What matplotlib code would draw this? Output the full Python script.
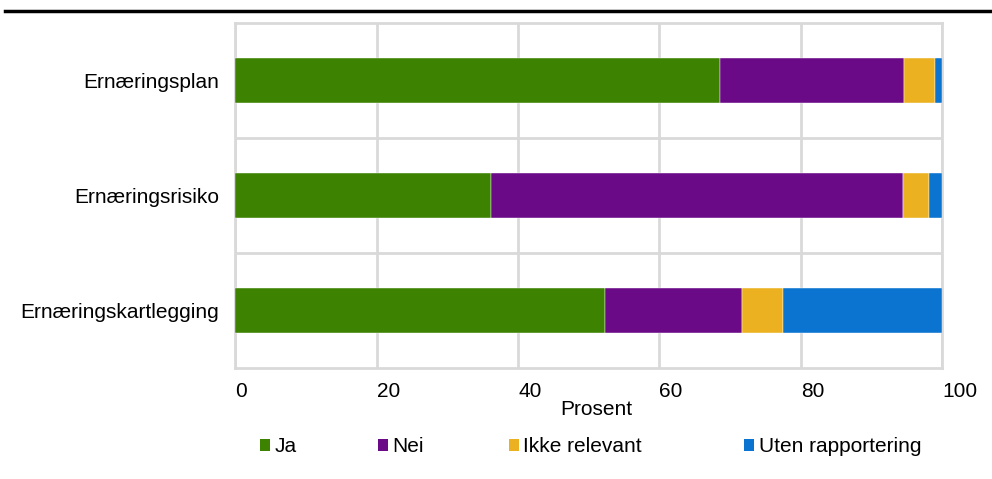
import numpy as np
import matplotlib
matplotlib.use("Agg")
import matplotlib.pyplot as plt
from matplotlib.patches import Patch

plt.rcParams['font.family'] = ['Liberation Sans', 'DejaVu Sans']

# data
categories = ["Ernæringsplan", "Ernæringsrisiko", "Ernæringskartlegging"]
series = ["Ja", "Nei", "Ikke relevant", "Uten rapportering"]
ja = [68.5, 36.2, 52.3]
nei = [26.1, 58.3, 19.4]
ikke_relevant = [4.4, 3.6, 5.8]
uten_rapportering = [1.0, 1.9, 22.5]
xticks = [0, 20, 40, 60, 80, 100]

colors = ["#3d8200", "#6a0a87", "#ebb120", "#0a74d0"]
values = [ja, nei, ikke_relevant, uten_rapportering]
fs = 15

fig = plt.figure(figsize=(9.92, 4.79), dpi=100)
ax = fig.add_axes([0.237, 0.232, 0.713, 0.72])

y = np.arange(len(categories))
left = np.zeros(len(categories))
for name, vals, col in zip(series, values, colors):
    ax.barh(y, vals, left=left, height=0.39, color=col,
            edgecolor="white", linewidth=0.3, label=name, zorder=3)
    left += np.array(vals)

ax.set_xlim(0, 100)
ax.set_ylim(len(categories) - 0.5, -0.5)
ax.set_yticks(y)
ax.set_yticklabels(categories, fontsize=fs)
ax.set_xticks(xticks)
ax.set_xticklabels([str(t) for t in xticks], fontsize=fs)
for lab in ax.get_xticklabels():
    lab.set_horizontalalignment("left")
ax.tick_params(axis="both", length=0)
ax.tick_params(axis="y", pad=11.5)
ax.tick_params(axis="x", pad=10)

# grid: vertical at ticks, horizontal at category boundaries
ax.set_yticks(np.arange(0.5, len(categories) - 0.5, 1), minor=True)
ax.tick_params(axis="y", which="minor", length=0)
ax.grid(axis="x", which="major", color="#d9d9d9", linewidth=2, zorder=0)
ax.grid(axis="y", which="minor", color="#d9d9d9", linewidth=2, zorder=0)
for sp in ax.spines.values():
    sp.set_color("#d9d9d9")
    sp.set_linewidth(2)

ax.set_xlabel("Prosent", fontsize=fs)
ax.xaxis.set_label_coords(0.511, -0.093)

# legend, one entry per slot
leg_x = [0.262, 0.381, 0.513, 0.750]
for name, col, lx in zip(series, colors, leg_x):
    fig.legend(handles=[Patch(facecolor=col)], labels=[name],
               loc="center left", bbox_to_anchor=(lx, 0.067), frameon=False,
               fontsize=fs, handlelength=0.5, handleheight=0.5,
               handletextpad=0.2, borderpad=0, borderaxespad=0)

# top rule
fig.add_artist(plt.Line2D([0.005, 1.0], [0.977, 0.977], color="black",
                          linewidth=2.5, transform=fig.transFigure))

fig.savefig("out.png", dpi=100)
